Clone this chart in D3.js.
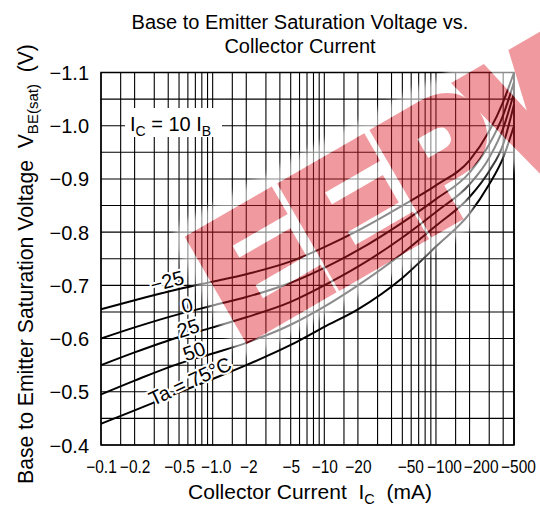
<!DOCTYPE html>
<html><head><meta charset="utf-8">
<script src="https://cdn.jsdelivr.net/npm/d3@7/dist/d3.min.js"></script>
<style>
body{margin:0;background:#fff}
svg{display:block}
text{font-family:"Liberation Sans",Arial,Helvetica,sans-serif}
</style>
</head><body>
<svg id="chart" width="540" height="512"></svg>
<script>
// ---------- data ----------
const currents = [0.1, 0.2, 0.5, 1, 2, 5, 10, 20, 50, 100, 200, 300, 400, 500]; // mA (magnitude)
const vbeM25 = [-0.655, -0.672, -0.693, -0.707, -0.721, -0.745, -0.772, -0.803, -0.850, -0.888, -0.935, -0.990, -1.045, -1.100];
const vbe0   = [-0.600, -0.621, -0.646, -0.662, -0.678, -0.705, -0.733, -0.766, -0.818, -0.862, -0.912, -0.965, -1.020, -1.082];
const vbe25  = [-0.550, -0.574, -0.603, -0.621, -0.640, -0.669, -0.700, -0.735, -0.790, -0.838, -0.890, -0.940, -0.995, -1.062];
const vbe50  = [-0.495, -0.521, -0.553, -0.572, -0.592, -0.626, -0.660, -0.700, -0.760, -0.812, -0.866, -0.915, -0.965, -1.040];
const vbe75  = [-0.440, -0.465, -0.499, -0.524, -0.550, -0.588, -0.622, -0.655, -0.714, -0.773, -0.835, -0.890, -0.940, -1.000];
const seriesLabels = ["\u221225", "0", "25", "50", "Ta = 75\u00B0C"];

const xTickValues = [0.1, 0.2, 0.5, 1, 2, 5, 10, 20, 50, 100, 200, 500];
const xTickLabels = ["\u22120.1","\u22120.2","\u22120.5","\u22121.0","\u22122","\u22125","\u221210","\u221220","\u221250","\u2212100","\u2212200","\u2212500"];
const yTickValues = [-1.1, -1.0, -0.9, -0.8, -0.7, -0.6, -0.5, -0.4];
const yTickLabels = ["\u22121.1","\u22121.0","\u22120.9","\u22120.8","\u22120.7","\u22120.6","\u22120.5","\u22120.4"];
const gridMultipliers = [1, 1.5, 2, 3, 4, 5, 6, 7, 8, 9];
const gridDecades = [0.1, 1, 10, 100];

const titleLines = ["Base to Emitter Saturation Voltage vs.", "Collector Current"];
const watermarkText = "EEPW";

// ---------- layout ----------
const W = 540, H = 512;
const FONT = '"Liberation Sans",Arial,sans-serif';
const m = {left: 101, right: 514, top: 72.5, bottom: 445};
const svg = d3.select("#chart");
svg.append("rect").attr("width", W).attr("height", H).attr("fill", "#fff");

const x = d3.scaleLog().domain([0.1, 500]).range([m.left, m.right]);
const y = d3.scaleLinear().domain([-0.4, -1.1]).range([m.bottom, m.top]);

// grid
const xGrid = [];
gridDecades.forEach(d => gridMultipliers.forEach(k => { const v = +(d * k).toPrecision(6); if (v <= 500) xGrid.push(v); }));
xGrid.push(500);
const yGrid = d3.range(0, 15).map(i => +(-0.4 - i * 0.05).toFixed(2));

const grid = svg.append("g");
grid.selectAll("line.v").data(xGrid).join("line")
  .attr("x1", d => x(d)).attr("x2", d => x(d)).attr("y1", m.top).attr("y2", m.bottom)
  .attr("stroke", "#000").attr("stroke-width", 1.1);
grid.selectAll("line.h").data(yGrid).join("line")
  .attr("x1", m.left).attr("x2", m.right).attr("y1", d => y(d)).attr("y2", d => y(d))
  .attr("stroke", "#000").attr("stroke-width", 1.1);
svg.append("rect").attr("x", m.left).attr("y", m.top).attr("width", m.right - m.left).attr("height", m.bottom - m.top)
  .attr("fill", "none").attr("stroke", "#000").attr("stroke-width", 1.5);

// axes labels (d3 axes, domain/ticks hidden)
const xAxis = d3.axisBottom(x).tickValues(xTickValues).tickSize(0).tickFormat((d, i) => xTickLabels[i]);
const gx = svg.append("g").attr("transform", `translate(0,${m.bottom})`).call(xAxis);
gx.select(".domain").remove();
const xShift = {"1": 3, "2": 2, "50": 8, "100": 8, "200": 11, "500": 4};
gx.selectAll(".tick text").attr("font-size", 18).attr("y", 0).attr("dy", 0)
  .attr("transform", d => `translate(${xShift[d] || 0},28) scale(0.86,1)`)
  .style("font-family", FONT).attr("fill", "#000");

const yAxis = d3.axisLeft(y).tickValues(yTickValues).tickSize(0).tickFormat((d, i) => yTickLabels[i]);
const gy = svg.append("g").attr("transform", `translate(${m.left},0)`).call(yAxis);
gy.select(".domain").remove();
gy.selectAll(".tick text").attr("font-size", 20).attr("x", -12).attr("dy", "0.35em")
  .style("font-family", FONT).attr("fill", "#000");

// curves
const series = [vbeM25, vbe0, vbe25, vbe50, vbe75];
const line = d3.line().x(d => x(d[0])).y(d => y(d[1])).curve(d3.curveMonotoneX);
svg.append("g").selectAll("path").data(series).join("path")
  .attr("d", s => line(currents.map((c, i) => [c, s[i]])))
  .attr("fill", "none").attr("stroke", "#000").attr("stroke-width", 2);

// curve labels
const labelPos = [[167, 281, -15], [187, 305, -15], [188, 328, -18], [194, 351, -20], [190, 381, -25]];
svg.append("g").selectAll("text").data(seriesLabels).join("text")
  .attr("transform", (d, i) => `translate(${labelPos[i][0]},${labelPos[i][1]}) rotate(${labelPos[i][2]})`)
  .attr("text-anchor", "middle").attr("dy", "0.36em").attr("font-size", 20).attr("fill", "#000")
  .attr("stroke", "#fff").attr("stroke-width", 4).attr("paint-order", "stroke")
  .text(d => d);

// annotation I_C = 10 I_B
svg.append("rect").attr("x", 125).attr("y", 108).attr("width", 97).attr("height", 29).attr("fill", "#fff");
const ann = svg.append("text").attr("x", 130).attr("y", 131).attr("font-size", 20).attr("fill", "#000").style("white-space", "pre");
ann.append("tspan").text("I");
ann.append("tspan").attr("font-size", 14).attr("dy", 5).text("C");
ann.append("tspan").attr("dy", -5).text(" = 10 I");
ann.append("tspan").attr("font-size", 14).attr("dy", 5).text("B");

// title
svg.append("g").selectAll("text").data(titleLines).join("text")
  .attr("x", 300).attr("y", (d, i) => 29 + i * 24).attr("text-anchor", "middle").attr("font-size", 20).attr("fill", "#000").text(d => d);

// x title
const xt = svg.append("text").attr("x", 310).attr("y", 499).attr("text-anchor", "middle").attr("font-size", 21).attr("fill", "#000").style("white-space", "pre");
xt.append("tspan").text("Collector Current  I");
xt.append("tspan").attr("font-size", 14.5).attr("dy", 5).text("C");
xt.append("tspan").attr("dy", -5).text("  (mA)");

// y title
const yt = svg.append("text").attr("transform", "translate(33,264) rotate(-90)").attr("text-anchor", "middle").attr("font-size", 21.2).attr("fill", "#000").style("white-space", "pre");
yt.append("tspan").text("Base to Emitter Saturation Voltage  V");
yt.append("tspan").attr("font-size", 15).attr("dy", 5).text("BE(sat)");
yt.append("tspan").attr("dy", -5).text("  (V)");

// watermark (semi-transparent heavy logo text on top)
const wmT = "translate(240,340) rotate(-30)";
const wmStroke = 14;
const defs = svg.append("defs");
const mask = defs.append("mask").attr("id", "wmMask").attr("maskUnits", "userSpaceOnUse")
  .attr("x", 0).attr("y", 0).attr("width", W).attr("height", H);
mask.append("rect").attr("width", W).attr("height", H).attr("fill", "#fff");
mask.append("text").attr("transform", wmT).attr("font-size", 160).attr("font-weight", "bold")
  .style("font-family", FONT).attr("fill", "#000").attr("stroke", "#000").attr("stroke-width", wmStroke)
  .attr("stroke-linejoin", "miter").text(watermarkText);
defs.append("filter").attr("id", "soft").append("feGaussianBlur").attr("stdDeviation", 3);
svg.append("g").attr("mask", "url(#wmMask)").attr("opacity", 0.55)
  .append("text").attr("transform", wmT).attr("font-size", 160).attr("font-weight", "bold")
  .style("font-family", FONT).attr("filter", "url(#soft)")
  .attr("fill", "#fff").attr("stroke", "#fff").attr("stroke-width", 42).attr("stroke-linejoin", "round").text(watermarkText);
svg.append("g").attr("opacity", 0.45)
  .append("text").attr("transform", wmT).attr("font-size", 160).attr("font-weight", "bold")
  .style("font-family", FONT)
  .attr("fill", "#de212c").attr("stroke", "#de212c").attr("stroke-width", wmStroke)
  .attr("stroke-linejoin", "miter").text(watermarkText);
</script>
</body></html>
